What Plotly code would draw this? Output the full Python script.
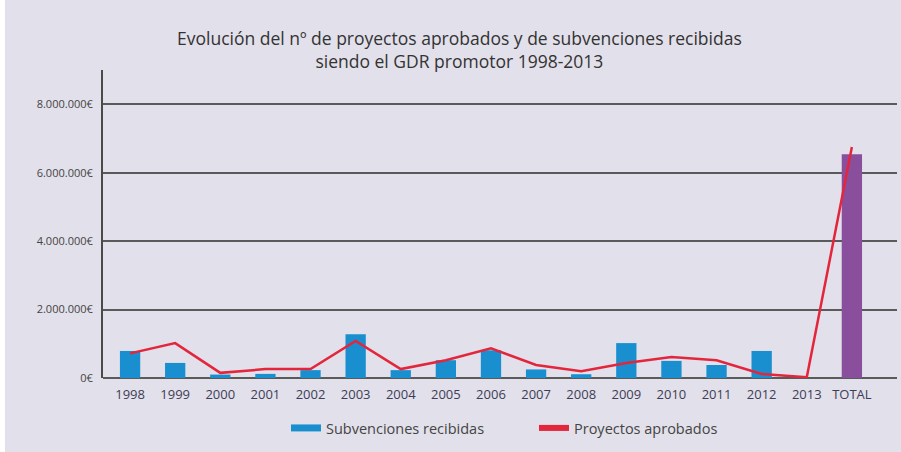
import plotly.graph_objects as go

categories = ["1998", "1999", "2000", "2001", "2002", "2003", "2004", "2005",
              "2006", "2007", "2008", "2009", "2010", "2011", "2012", "2013", "TOTAL"]
subvenciones = [790000, 440000, 100000, 120000, 230000, 1280000, 230000, 520000,
                810000, 250000, 110000, 1020000, 500000, 380000, 790000, 0, 6540000]
# number of approved projects (plotted on a hidden secondary axis, 0-90)
proyectos = [7.2, 10.2, 1.5, 2.6, 2.6, 10.8, 2.6, 5.2, 8.7, 3.8, 2.0, 4.4, 6.1, 5.2, 1.2, 0.2, 67.5]
ytick_vals = [0, 2000000, 4000000, 6000000, 8000000]
ytick_text = ["0€", "2.000.000€", "4.000.000€", "6.000.000€", "8.000.000€"]
title_lines = ["Evolución del nº de proyectos aprobados y de subvenciones recibidas",
               "siendo el GDR promotor 1998-2013"]

BLUE = "#1a8fd0"
PURPLE = "#8a4f9c"
RED = "#e3263b"
bar_colors = [BLUE] * (len(categories) - 1) + [PURPLE]

fig = go.Figure()
fig.add_trace(go.Bar(
    x=categories, y=subvenciones, name="Subvenciones recibidas", showlegend=False,
    marker=dict(color=bar_colors, line=dict(width=0)), width=0.45,
))
fig.add_trace(go.Scatter(
    x=categories, y=proyectos, name="Proyectos aprobados", yaxis="y2", showlegend=False,
    mode="lines", line=dict(color=RED, width=2.5),
))
# legend entries (wide swatches as in the original)
fig.add_trace(go.Scatter(x=[None], y=[None], mode="lines", name="Subvenciones recibidas",
                         line=dict(color=BLUE, width=7)))
fig.add_trace(go.Scatter(x=[None], y=[None], mode="lines", name="Proyectos aprobados",
                         line=dict(color=RED, width=6)))

W0 = 103
PW = 794
PH = 308
fig.add_shape(type="rect", xref="paper", yref="paper",
              x0=-W0 / PW, x1=-(W0 - 5) / PW, y0=-1, y1=2,
              fillcolor="white", line=dict(width=0), layer="below")

fig.add_annotation(
    text="<br>".join(title_lines), xref="paper", yref="paper", showarrow=False,
    x=(459 - W0) / PW, xanchor="center",
    y=(378 - 49) / PH, yanchor="middle", align="center",
    font=dict(family="Open Sans", size=17.5, color="#333333"),
)

fig.update_layout(
    width=901, height=452,
    margin=dict(l=103, r=4, t=70, b=74, autoexpand=False),
    paper_bgcolor="#e2e0ea", plot_bgcolor="#e2e0ea",
    font=dict(family="Open Sans", color="#444444", size=12),
    xaxis=dict(
        type="category", range=[-0.6, 17.0], showgrid=False, showline=False,
        ticks="", tickfont=dict(size=13, color="#3d3d55"), ticklabelstandoff=7,
    ),
    yaxis=dict(
        range=[0, 9000000], tickvals=ytick_vals, ticktext=ytick_text,
        showgrid=True, gridcolor="#5a5a5a", gridwidth=2,
        zeroline=True, zerolinecolor="#5a5a5a", zerolinewidth=2,
        showline=True, linecolor="#4a4a4a", linewidth=2,
        ticks="", tickfont=dict(size=11, color="#444444"), ticklabelstandoff=6,
    ),
    yaxis2=dict(range=[0, 90], overlaying="y", visible=False),
    showlegend=True,
    legend=dict(
        orientation="h", x=(286 - W0) / PW, xanchor="left",
        y=(378 - 428) / PH, yanchor="middle",
        font=dict(size=14.5, color="#444444"), entrywidth=203, bgcolor="rgba(0,0,0,0)",
        itemwidth=30,
    ),
)

fig.write_html("out.html", post_script="document.body.style.margin='0';",
               config={"displayModeBar": False})
